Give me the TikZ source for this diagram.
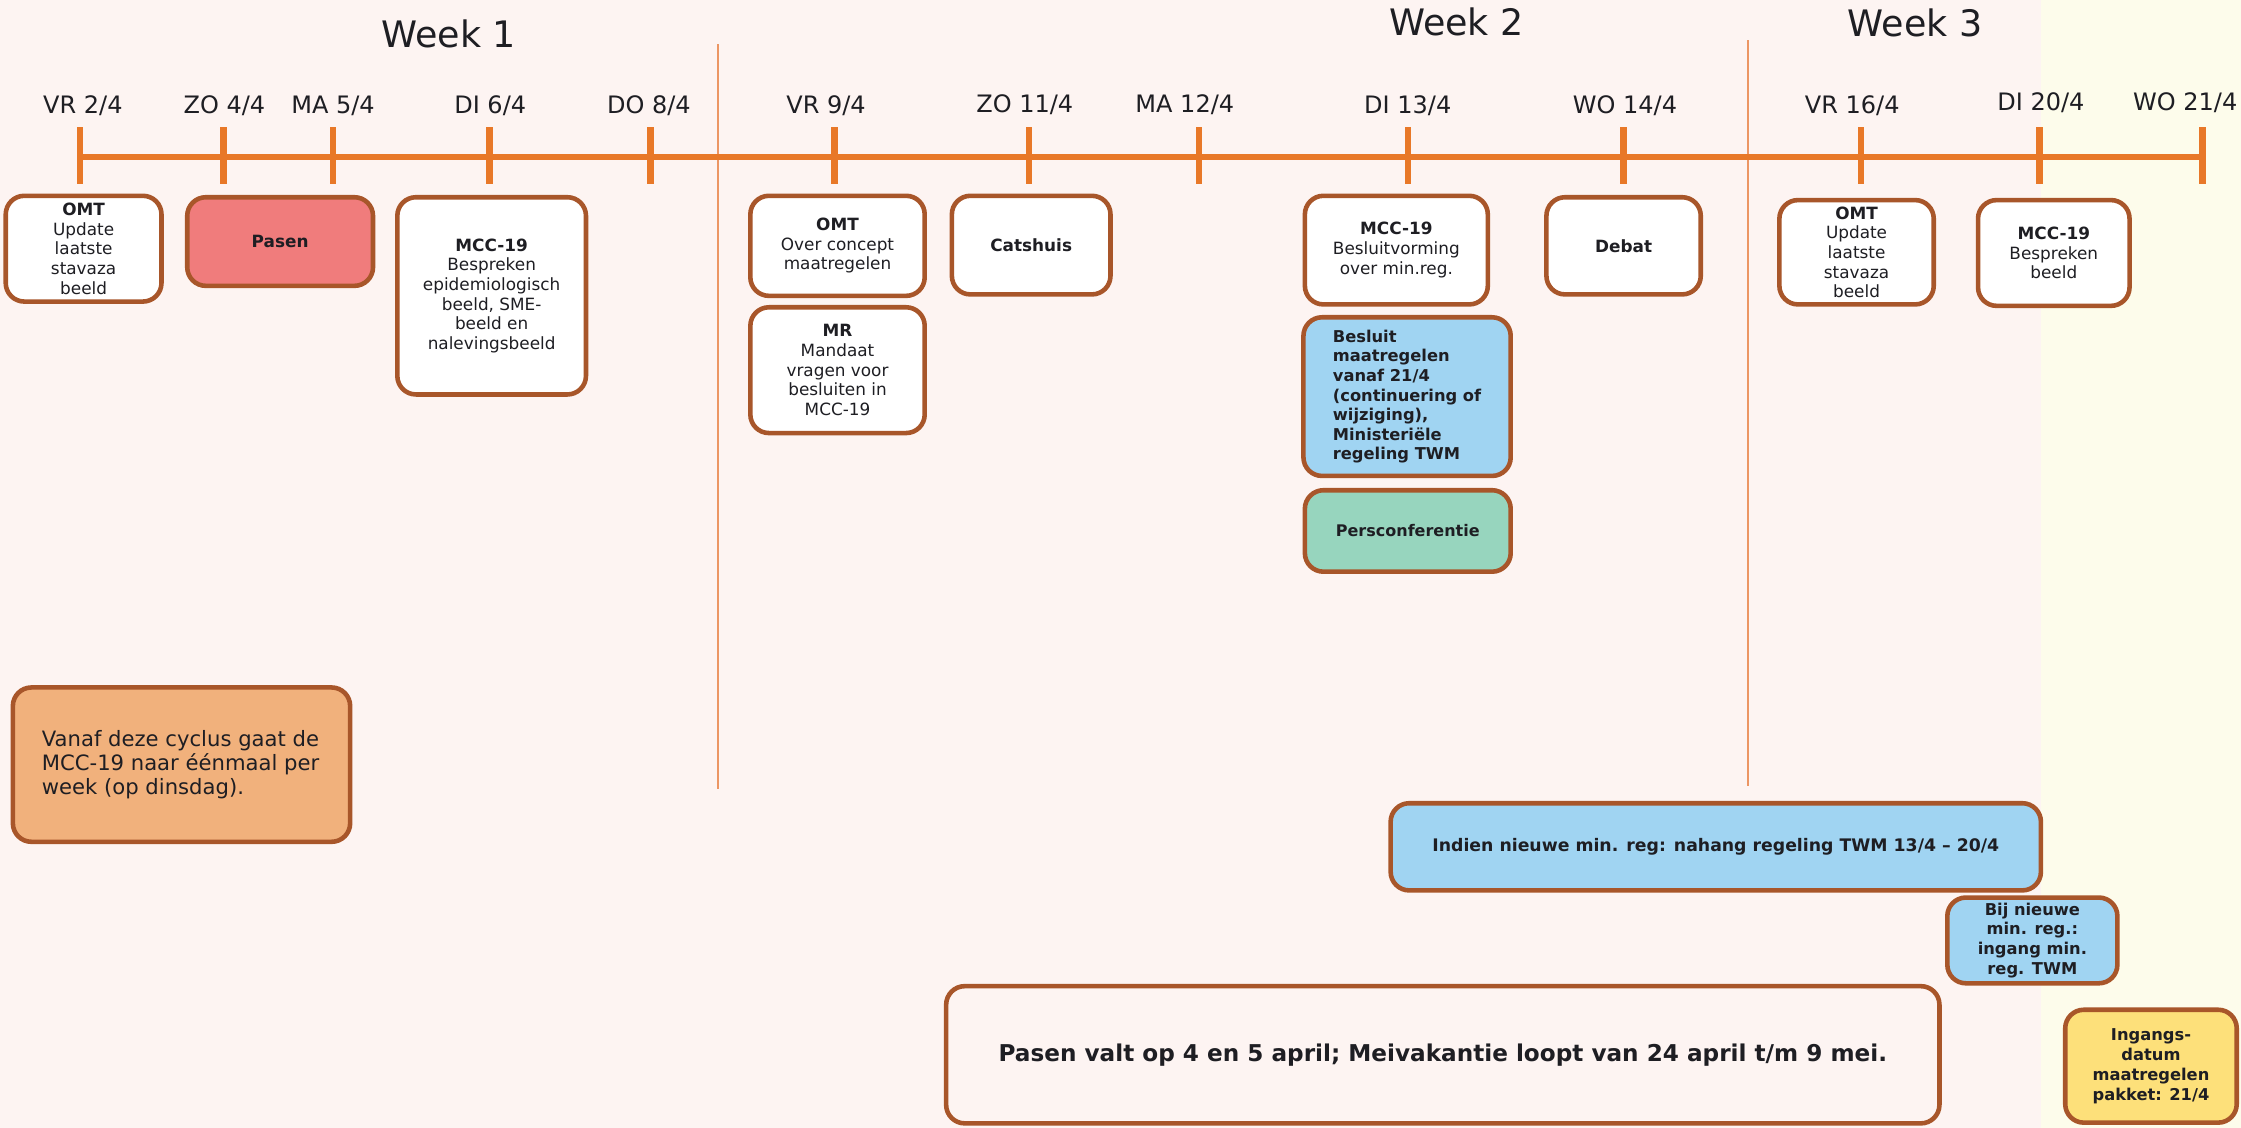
\documentclass[tikz,border=0pt]{standalone}
\usepackage{fontspec}
\setmainfont{DejaVu Sans}
\usetikzlibrary{calc}
\definecolor{bgpink}{RGB}{253,244,242}
\definecolor{bgyel}{RGB}{253,252,235}
\definecolor{tlor}{RGB}{232,120,40}
\definecolor{sepor}{RGB}{236,150,100}
\definecolor{brd}{RGB}{168,86,42}
\definecolor{ink}{RGB}{30,30,35}
\definecolor{pasenred}{RGB}{240,124,124}
\definecolor{lblue}{RGB}{160,212,242}
\definecolor{mint}{RGB}{151,213,190}
\definecolor{vanafor}{RGB}{241,177,124}
\definecolor{ybox}{RGB}{253,224,122}
\begin{document}
\begin{tikzpicture}[x=1pt,y=-1pt,
  evbox/.style={draw=brd, line width=3.2pt, rounded corners=13pt, fill=white, align=center,
    inner sep=0pt, text=ink, font=\fontsize{11.8}{13.75}\selectfont},
  datelab/.style={font=\fontsize{16.8}{20}\selectfont, text=ink, inner sep=0pt},
  weeklab/.style={font=\fontsize{25.5}{30}\selectfont, text=ink, inner sep=0pt},
  tickline/.style={draw=tlor, line width=4.5pt},
  axisline/.style={draw=tlor, line width=4pt},
  sepline/.style={draw=sepor, line width=1.3pt}]
\useasboundingbox (0,0) rectangle (1568,789);
\fill[bgpink] (0,0) rectangle (1428,789);
\fill[bgyel] (1428,0) rectangle (1568,789);

% week titles
\node[weeklab] (w1) at (314,24) {Week 1};
\node[weeklab] (w2) at (1019,15) {Week 2};
\node[weeklab] (w3) at (1340,16) {Week 3};

% separators
\coordinate (s1t) at (502.5,31);
\coordinate (s1b) at (502.5,552);
\coordinate (s2t) at (1223,28);
\coordinate (s2b) at (1223,550);
\draw[sepline] (s1t) -- (s1b);
\draw[sepline] (s2t) -- (s2b);

% timeline
\coordinate (d1) at (56,110);
\coordinate (d2) at (156.5,110);
\coordinate (d3) at (233,110);
\coordinate (d4) at (342.5,110);
\coordinate (d5) at (455,110);
\coordinate (d6) at (584,110);
\coordinate (d7) at (720,110);
\coordinate (d8) at (839,110);
\coordinate (d9) at (985,110);
\coordinate (d10) at (1136,110);
\coordinate (d11) at (1302,110);
\coordinate (d12) at (1427,110);
\coordinate (d13) at (1541,110);
\draw[axisline] (d1) -- (d13);
\foreach \d in {d1,d2,d3,d4,d5,d6,d7,d8,d9,d10,d11,d12,d13}
  \draw[tickline] ($(\d)+(0,-21)$) -- ($(\d)+(0,19)$);

% date labels
\node[datelab] (l1) at (58,74) {VR 2/4};
\node[datelab] (l2) at (157,74) {ZO 4/4};
\node[datelab] (l3) at (233,74) {MA 5/4};
\node[datelab] (l4) at (343,74) {DI 6/4};
\node[datelab] (l5) at (454,74) {DO 8/4};
\node[datelab] (l6) at (578,74) {VR 9/4};
\node[datelab] (l7) at (717,73) {ZO 11/4};
\node[datelab] (l8) at (829,73) {MA 12/4};
\node[datelab] (l9) at (985,74) {DI 13/4};
\node[datelab] (l10) at (1137,74) {WO 14/4};
\node[datelab] (l11) at (1296,74) {VR 16/4};
\node[datelab] (l12) at (1428,72) {DI 20/4};
\node[datelab] (l13) at (1529,72) {WO 21/4};

% event boxes
\node[evbox, minimum width=109, minimum height=74] (omtA) at (58.5,174)
  {\textbf{OMT}\\Update\\laatste\\stavaza\\beeld};
\node[evbox, fill=pasenred, minimum width=130, minimum height=62] (pasen) at (196,169)
  {\textbf{Pasen}};
\node[evbox, minimum width=132, minimum height=138] (mccA) at (344,207)
  {\textbf{MCC-19}\\Bespreken\\epidemiologisch\\beeld, SME-\\beeld en\\nalevingsbeeld};
\node[evbox, minimum width=122, minimum height=70] (omtB) at (586,172)
  {\textbf{OMT}\\Over concept\\maatregelen};
\node[evbox, minimum width=122, minimum height=88] (mr) at (586,259)
  {\textbf{MR}\\Mandaat\\vragen voor\\besluiten in\\MCC-19};
\node[evbox, minimum width=111, minimum height=69] (cats) at (721.5,171.5)
  {\textbf{Catshuis}};
\node[evbox, minimum width=128, minimum height=76] (mccB) at (977,175)
  {\textbf{MCC-19}\\Besluitvorming\\over min.reg.};
\node[evbox, minimum width=108, minimum height=68] (debat) at (1136,172)
  {\textbf{Debat}};
\node[evbox, fill=lblue, align=left, minimum width=145, minimum height=111,
  font=\fontsize{11.4}{13.7}\selectfont\bfseries] (besluit) at (984.5,277.5)
  {Besluit\\maatregelen\\vanaf 21/4\\(continuering of\\wijziging),\\Ministeriële\\regeling TWM};
\node[evbox, fill=mint, minimum width=144, minimum height=57,
  font=\fontsize{11.2}{13}\selectfont\bfseries] (pers) at (985,371.5)
  {Persconferentie};
\node[evbox, minimum width=108, minimum height=73] (omtC) at (1299,176.5)
  {\textbf{OMT}\\Update\\laatste\\stavaza\\beeld};
\node[evbox, minimum width=106, minimum height=74] (mccC) at (1437,177)
  {\textbf{MCC-19}\\Bespreken\\beeld};

\node[evbox, fill=vanafor, align=left, minimum width=236, minimum height=108,
  font=\fontsize{14.8}{16.5}\selectfont] (vanaf) at (127,535)
  {Vanaf deze cyclus gaat de\\MCC-19 naar éénmaal per\\week (op dinsdag).\hspace*{54pt}};

\node[evbox, fill=lblue, minimum width=455, minimum height=61,
  font=\fontsize{12.1}{13.7}\selectfont\bfseries] (indien) at (1200.5,592.5)
  {Indien nieuwe min. reg: nahang regeling TWM 13/4 – 20/4};
\node[evbox, fill=lblue, minimum width=119, minimum height=60,
  font=\fontsize{11.4}{13.8}\selectfont\bfseries] (bij) at (1422,658)
  {Bij nieuwe\\min. reg.:\\ingang min.\\reg. TWM};
\node[evbox, fill=bgpink, minimum width=695, minimum height=96,
  font=\fontsize{16.2}{18}\selectfont\bfseries] (pvalt) at (1009.5,738)
  {Pasen valt op 4 en 5 april; Meivakantie loopt van 24 april t/m 9 mei.};
\node[evbox, fill=ybox, minimum width=120, minimum height=79,
  font=\fontsize{11.4}{14}\selectfont\bfseries] (ingang) at (1505,746)
  {Ingangs-\\datum\\maatregelen\\pakket: 21/4};
\end{tikzpicture}
\end{document}
